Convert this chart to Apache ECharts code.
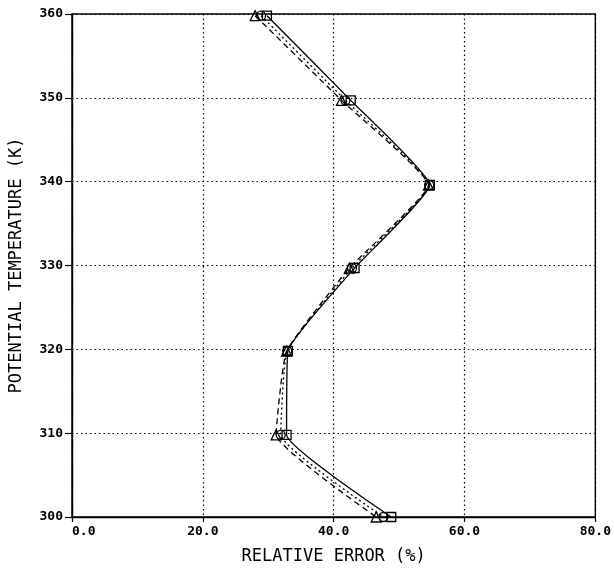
<!DOCTYPE html>
<html>
<head>
<meta charset="utf-8">
<script src="https://cdn.jsdelivr.net/npm/echarts@6/dist/echarts.min.js"></script>
<style>
  html, body { margin: 0; padding: 0; background: #fff; }
  #chart { width: 614px; height: 570px; }
</style>
</head>
<body>
<div id="chart"></div>
<script>
// potential temperature levels (K)
const levels = [359.8, 349.7, 339.6, 329.7, 319.8, 309.8, 300.0];
// relative error (%) per level
const errSolid  = [29.8, 42.6, 54.7, 43.2, 33.0, 32.8, 48.8];
const errDashed = [28.0, 41.2, 54.5, 42.4, 32.8, 31.2, 46.5];
const errDotted = [28.9, 41.8, 54.6, 42.8, 32.9, 31.9, 47.6];
const xTicks = [0, 20, 40, 60, 80];
const yTicks = [300, 310, 320, 330, 340, 350, 360];

const FONT = '"DejaVu Sans Mono", monospace';
const pairs = (xs) => xs.map((x, i) => [x, levels[i]]);

const mkSeries = (name, vals, lineType, symbol) => ({
    name: name,
    type: 'line',
    data: pairs(vals),
    symbol: symbol,
    symbolSize: symbol === 'triangle' ? 10 : 9,
    smooth: 0.12,
    clip: false,
    lineStyle: { color: '#000', width: 1.3, type: lineType },
    itemStyle: { color: 'transparent', borderColor: '#000', borderWidth: 1.3 },
    z: 3
});

const chart = echarts.init(document.getElementById('chart'));
chart.setOption({
    backgroundColor: '#fff',
    animation: false,
    grid: { left: 71, right: 17, top: 14, bottom: 50, show: true, borderColor: '#000', borderWidth: 1.4 },
    xAxis: {
        type: 'value',
        min: xTicks[0], max: xTicks[xTicks.length - 1], interval: 20,
        name: 'RELATIVE ERROR (%)',
        nameLocation: 'middle', nameGap: 31,
        nameTextStyle: { fontFamily: FONT, fontSize: 17, color: '#000' },
        axisLine: { lineStyle: { color: '#000', width: 1.4 } },
        axisTick: { show: true, length: 5, lineStyle: { color: '#000', width: 1.2 } },
        axisLabel: {
            fontFamily: FONT, fontSize: 13, fontWeight: 'bold', color: '#000', margin: 8,
            alignMinLabel: 'left',
            formatter: v => v.toFixed(1)
        },
        splitLine: { show: true, lineStyle: { color: '#000', width: 1.2, type: [1.5, 3] } }
    },
    yAxis: {
        type: 'value',
        min: yTicks[0], max: yTicks[yTicks.length - 1], interval: 10,
        name: 'POTENTIAL TEMPERATURE (K)',
        nameLocation: 'middle', nameGap: 47,
        nameTextStyle: { fontFamily: FONT, fontSize: 17, color: '#000' },
        axisLine: { show: true, lineStyle: { color: '#000', width: 1.4 } },
        axisTick: { show: true, length: 7, lineStyle: { color: '#000', width: 1.2 } },
        axisLabel: { fontFamily: FONT, fontSize: 13, fontWeight: 'bold', color: '#000', margin: 9 },
        splitLine: { show: true, lineStyle: { color: '#000', width: 1.2, type: [1.5, 3] } }
    },
    series: [
        mkSeries('solid', errSolid, 'solid', 'rect'),
        mkSeries('dashed', errDashed, [6, 4], 'triangle'),
        mkSeries('dotted', errDotted, [2, 3], 'circle')
    ]
});
</script>
</body>
</html>
